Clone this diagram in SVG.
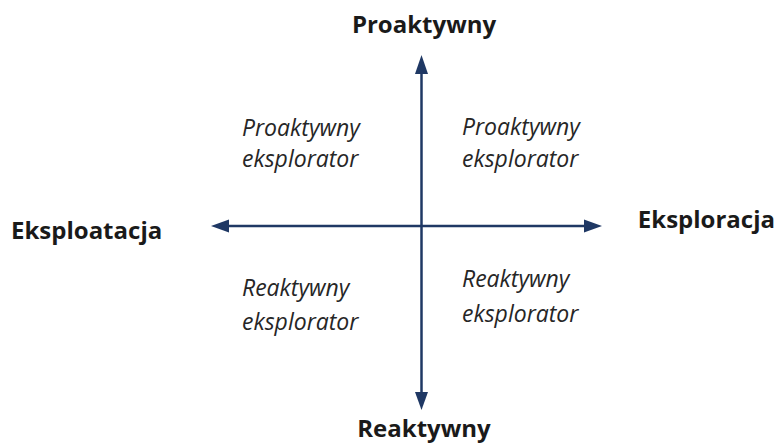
<svg xmlns="http://www.w3.org/2000/svg" width="779" height="445" viewBox="0 0 779 445">
  <style>
    .axis { stroke: #1f3864; stroke-width: 2.5; fill: none; }
    .head { fill: #1f3864; }
    .pole { font-family: "Open Sans", "Noto Sans", sans-serif; font-weight: bold; font-size: 24px; fill: #1a1a1a; }
    .quad { font-family: "Open Sans", "Noto Sans", sans-serif; font-style: italic; font-size: 23px; fill: #262626; }
  </style>
  <rect width="779" height="445" fill="#ffffff"/>

  <!-- two crossing axes with arrowheads at all four ends -->
  <g id="connectors">
    <line class="axis" x1="421.5" y1="72" x2="421.5" y2="395"/>
    <polygon class="head" points="421.5,55 415,74 428,74"/>
    <polygon class="head" points="421.5,410 415,392 428,392"/>
    <line class="axis" x1="227" y1="226" x2="586" y2="226"/>
    <polygon class="head" points="211,226 229,219.5 229,232.5"/>
    <polygon class="head" points="602,226 584,219.5 584,232.5"/>
  </g>

  <g id="pole-top"><text class="pole" x="424" y="33" text-anchor="middle">Proaktywny</text></g>
  <g id="pole-bottom"><text class="pole" x="424" y="437" text-anchor="middle">Reaktywny</text></g>
  <g id="pole-left"><text class="pole" x="11" y="239">Eksploatacja</text></g>
  <g id="pole-right"><text class="pole" x="775" y="228" text-anchor="end">Eksploracja</text></g>

  <g id="quad-top-left">
    <text class="quad" x="242" y="136">Proaktywny</text>
    <text class="quad" x="242" y="167">eksplorator</text>
  </g>
  <g id="quad-top-right">
    <text class="quad" x="462" y="135">Proaktywny</text>
    <text class="quad" x="462" y="167">eksplorator</text>
  </g>
  <g id="quad-bottom-left">
    <text class="quad" x="242" y="296">Reaktywny</text>
    <text class="quad" x="242" y="330">eksplorator</text>
  </g>
  <g id="quad-bottom-right">
    <text class="quad" x="462" y="287">Reaktywny</text>
    <text class="quad" x="462" y="322">eksplorator</text>
  </g>
</svg>
